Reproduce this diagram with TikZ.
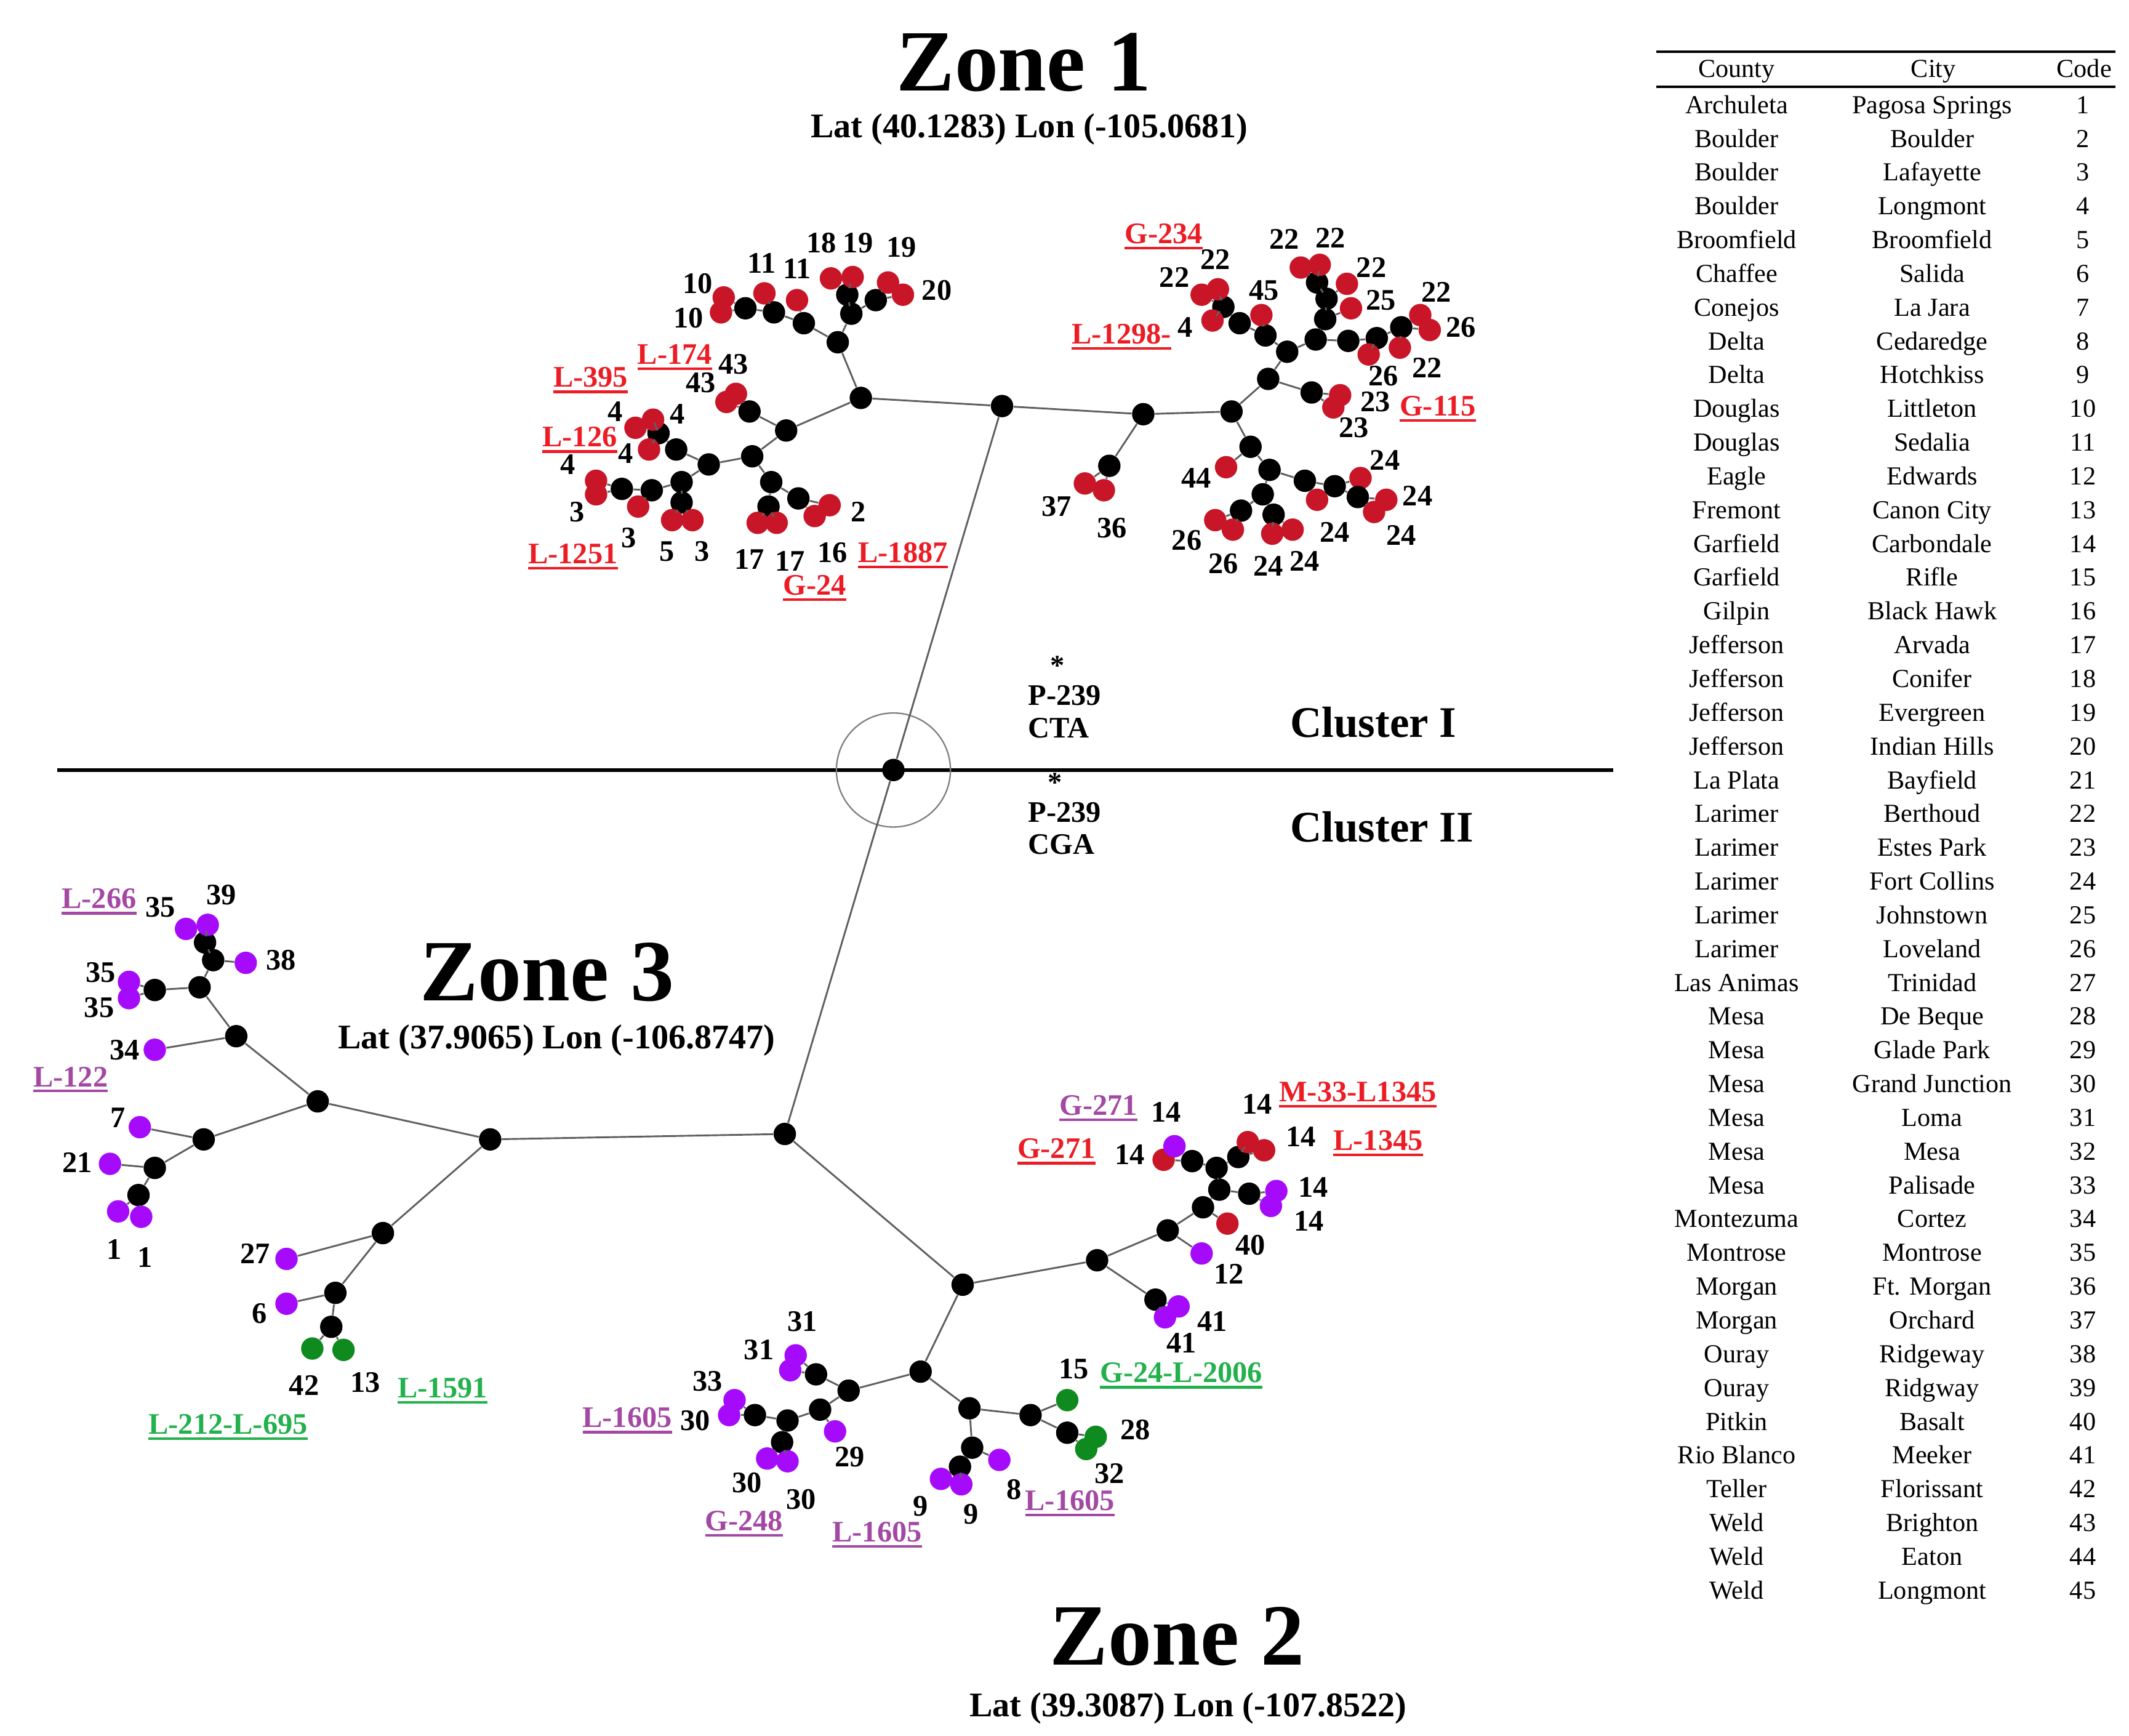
\documentclass[tikz,border=0pt]{standalone}
\usepackage{fontspec}
\setmainfont{Liberation Serif}
\definecolor{dred}{RGB}{200,22,40}
\definecolor{vio}{RGB}{166,10,250}
\definecolor{dgreen}{RGB}{14,138,30}
\definecolor{ured}{RGB}{236,28,36}
\definecolor{upur}{RGB}{163,73,164}
\definecolor{ugrn}{RGB}{34,177,76}
\definecolor{edgegray}{RGB}{95,95,95}
\newcommand{\labfont}{\fontsize{12.5}{14}\selectfont\bfseries}
\newcommand{\starfont}{\fontsize{12}{13}\selectfont\bfseries}
\newcommand{\tabfont}{\fontsize{10.9}{12}\selectfont}
\newcommand{\zonefont}{\fontsize{36.6}{40}\selectfont\bfseries}
\newcommand{\latfont}{\fontsize{14.5}{16}\selectfont\bfseries}
\newcommand{\clfont}{\fontsize{18.3}{20}\selectfont\bfseries}
\newcommand{\ulx}[1]{\setbox0=\hbox{#1}\vtop{\copy0\kern1.3pt\hrule height 1.1pt}}
\newcommand{\dt}[3]{\node[#1] (#2) at (#3) {};}
\begin{document}
\begin{tikzpicture}[x=0.02cm,y=-0.02cm,
  bd/.style={circle,fill=black,inner sep=0pt,minimum size=0.33cm},
  rd/.style={bd,fill=dred}, pd/.style={bd,fill=vio}, gd/.style={bd,fill=dgreen},
  lnk/.style={draw=edgegray,line width=0.75pt},
  lab/.style={inner sep=0pt,font=\labfont},
  ulr/.style={lab,text=ured}, ulp/.style={lab,text=upur}, ulg/.style={lab,text=ugrn},
  tabtxt/.style={inner sep=0pt,anchor=base,font=\tabfont}]
\useasboundingbox (0,0) rectangle (1568,1278);

% ---------- titles ----------
\node[font=\zonefont,inner sep=0pt] (z1) at (754,46) {Zone 1};
\node[font=\latfont,inner sep=0pt] (z1l) at (758,95) {Lat (40.1283) Lon (-105.0681)};
\node[font=\zonefont,inner sep=0pt] (z3) at (403,716) {Zone 3};
\node[font=\latfont,inner sep=0pt] (z3l) at (410,766) {Lat (37.9065) Lon (-106.8747)};
\node[font=\zonefont,inner sep=0pt] (z2) at (867,1205) {Zone 2};
\node[font=\latfont,inner sep=0pt] (z2l) at (875,1258) {Lat (39.3087) Lon (-107.8522)};

% ---------- cluster divider ----------
\coordinate (hl) at (42,567);
\coordinate (hr) at (1188,567);
\draw[line width=1.4pt] (hl) -- (hr);
\node[circle,draw=gray,line width=0.6pt,minimum size=1.68cm,inner sep=0pt] (ring) at (658,567) {};
\node[font=\starfont,inner sep=0pt,anchor=base] (st1) at (779,497) {\smash{*}};
\node[font=\labfont,inner sep=0pt,anchor=west] (p1) at (757,512) {P-239};
\node[font=\labfont,inner sep=0pt,anchor=west] (cta) at (757,536) {CTA};
\node[font=\starfont,inner sep=0pt,anchor=base] (st2) at (777,583) {\smash{*}};
\node[font=\labfont,inner sep=0pt,anchor=west] (p2) at (757,598) {P-239};
\node[font=\labfont,inner sep=0pt,anchor=west] (cga) at (757,622) {CGA};
\node[font=\clfont,inner sep=0pt,anchor=west] (cl1) at (950,532) {Cluster I};
\node[font=\clfont,inner sep=0pt,anchor=west] (cl2) at (950,609) {Cluster II};

% ---------- backbone ----------
\dt{bd}{C}{658,567}
\dt{bd}{T}{738,299}
\dt{bd}{B}{578,835}

% ---------- Zone 1 left ----------
\dt{bd}{L0}{634,293} \dt{bd}{L1}{617,252} \dt{bd}{L2}{592,238} \dt{bd}{L3}{570,230}
\dt{bd}{L4}{549,227} \dt{bd}{L5}{627,231} \dt{bd}{L6}{624,217} \dt{bd}{L7}{645,221}
\dt{rd}{Lr10a}{533,219} \dt{rd}{Lr10b}{531,230} \dt{rd}{Lr11a}{563,216} \dt{rd}{Lr11b}{587,221}
\dt{rd}{Lr18}{612,205} \dt{rd}{Lr19}{628,204} \dt{rd}{Lr19b}{654,208} \dt{rd}{Lr20}{665,217}
\dt{bd}{M1}{579,317} \dt{bd}{M2}{552,303}
\dt{rd}{Mr43a}{542,290} \dt{rd}{Mr43b}{535,296}
\dt{bd}{M3}{554,336} \dt{bd}{M4}{522,342} \dt{bd}{M5}{498,331} \dt{bd}{M6}{485,319}
\dt{rd}{Mr4a}{481,309} \dt{rd}{Mr4b}{468,315} \dt{rd}{Mr4c}{478,331}
\dt{bd}{M7}{502,355} \dt{bd}{M8}{502,370}
\dt{rd}{Mr5}{495,383} \dt{rd}{Mr3a}{510,383}
\dt{bd}{M9}{480,361} \dt{bd}{M10}{458,360}
\dt{rd}{Mr3b}{470,373} \dt{rd}{Mr3c}{439,354} \dt{rd}{Mr3d}{439,364}
\dt{bd}{M11}{568,355} \dt{bd}{M12}{588,367}
\dt{rd}{Mr2a}{611,372} \dt{rd}{Mr2b}{600,380}
\dt{bd}{M13}{566,373}
\dt{rd}{Mr17a}{558,385} \dt{rd}{Mr17b}{572,385}

% ---------- Zone 1 right ----------
\dt{bd}{R0}{842,305} \dt{bd}{R1}{907,303} \dt{bd}{R2}{934,279} \dt{bd}{R3}{948,259}
\dt{bd}{R4}{932,247} \dt{bd}{R5}{913,238} \dt{bd}{R6}{901,226}
\dt{rd}{Rr22a}{885,217} \dt{rd}{Rr22b}{897,213} \dt{rd}{Rr4}{893,236} \dt{rd}{Rr45}{929,232}
\dt{bd}{R7}{969,250} \dt{bd}{R8}{976,235} \dt{bd}{R9}{977,220} \dt{bd}{R10}{970,208}
\dt{rd}{Rr22c}{958,197} \dt{rd}{Rr22d}{972,195} \dt{rd}{Rr22e}{992,209} \dt{rd}{Rr25}{995,227}
\dt{bd}{R11}{993,251} \dt{bd}{R12}{1014,249} \dt{bd}{R13}{1032,241}
\dt{rd}{Rr22f}{1046,232} \dt{rd}{Rr26a}{1053,243} \dt{rd}{Rr22g}{1031,256} \dt{rd}{Rr26b}{1008,261}
\dt{bd}{R14}{966,289}
\dt{rd}{Rr23a}{987,291} \dt{rd}{Rr23b}{982,300}
\dt{bd}{R15}{921,329} \dt{rd}{Rr44}{903,344}
\dt{bd}{R16}{935,346} \dt{bd}{R17}{930,364} \dt{bd}{R18}{914,376}
\dt{rd}{Rr26c}{895,383} \dt{rd}{Rr26d}{908,390}
\dt{bd}{R19}{938,379}
\dt{rd}{Rr24a}{937,393} \dt{rd}{Rr24b}{952,390}
\dt{bd}{R20}{961,354} \dt{rd}{Rr24c}{970,368}
\dt{bd}{R21}{983,358} \dt{rd}{Rr24d}{1002,352}
\dt{bd}{R22}{1000,366}
\dt{rd}{Rr24e}{1021,368} \dt{rd}{Rr24f}{1012,377}
\dt{bd}{R23}{817,343}
\dt{rd}{Rr37}{799,356} \dt{rd}{Rr36}{813,361}

% ---------- Zone 3 ----------
\dt{bd}{W0}{361,839} \dt{bd}{W1}{234,811} \dt{bd}{W2}{174,763} \dt{bd}{W3}{147,727}
\dt{bd}{W4}{114,729}
\dt{pd}{Wp35a}{95,723} \dt{pd}{Wp35b}{95,735}
\dt{bd}{W5}{157,707} \dt{bd}{W6}{151,694}
\dt{pd}{Wp35c}{137,684} \dt{pd}{Wp39}{153,681} \dt{pd}{Wp38}{181,709} \dt{pd}{Wp34}{114,773}
\dt{bd}{W7}{150,839} \dt{pd}{Wp7}{103,830}
\dt{bd}{W8}{114,860} \dt{pd}{Wp21}{81,857}
\dt{bd}{W9}{102,880} \dt{pd}{Wp1a}{87,892} \dt{pd}{Wp1b}{104,896}
\dt{bd}{W10}{282,908} \dt{pd}{Wp27}{211,927}
\dt{bd}{W11}{247,952} \dt{pd}{Wp6}{211,960}
\dt{bd}{W12}{244,977} \dt{gd}{Wg42}{230,993} \dt{gd}{Wg13}{253,994}

% ---------- Zone 2 ----------
\dt{bd}{S0}{709,946} \dt{bd}{S1}{678,1010} \dt{bd}{S2}{625,1024} \dt{bd}{S3}{601,1012}
\dt{pd}{Sp31a}{586,998} \dt{pd}{Sp31b}{582,1009}
\dt{bd}{S4}{604,1038} \dt{bd}{S5}{580,1046} \dt{bd}{S6}{556,1042}
\dt{pd}{Sp33}{541,1031} \dt{pd}{Sp30a}{537,1042} \dt{pd}{Sp29}{615,1054}
\dt{bd}{S7}{576,1062} \dt{pd}{Sp30b}{565,1074} \dt{pd}{Sp30c}{580,1076}
\dt{bd}{S8}{714,1037} \dt{bd}{S9}{759,1042} \dt{gd}{Sg15}{786,1031}
\dt{bd}{S10}{786,1055} \dt{gd}{Sg28}{807,1058} \dt{gd}{Sg32}{800,1067}
\dt{bd}{S11}{716,1066} \dt{bd}{S12}{707,1080}
\dt{pd}{Sp9a}{693,1089} \dt{pd}{Sp9b}{708,1093} \dt{pd}{Sp8}{736,1075}
\dt{bd}{S13}{808,928} \dt{bd}{S14}{860,906} \dt{bd}{S15}{886,889} \dt{bd}{S16}{898,876}
\dt{bd}{S17}{896,860} \dt{bd}{S18}{878,855}
\dt{rd}{Sr14a}{857,854} \dt{pd}{Sp14a}{865,844}
\dt{bd}{S19}{912,852} \dt{rd}{Sr14b}{919,841} \dt{rd}{Sr14c}{931,847}
\dt{bd}{S20}{920,879} \dt{pd}{Sp14b}{940,877} \dt{pd}{Sp14c}{936,888}
\dt{rd}{Sr40}{904,901} \dt{pd}{Sp12}{885,923}
\dt{bd}{S21}{851,957} \dt{pd}{Sp41a}{868,962} \dt{pd}{Sp41b}{858,970}

% ---------- connectors ----------
\foreach \a/\b in {C/T, C/B, T/L0, T/R0, B/W0, B/S0,
  L0/L1, L1/L2, L2/L3, L3/L4, L4/Lr10a, L4/Lr10b, L3/Lr11a, L2/Lr11b, L1/L5, L5/L6,
  L6/Lr18, L6/Lr19, L5/L7, L7/Lr19b, L7/Lr20,
  L0/M1, M1/M2, M2/Mr43a, M2/Mr43b, M1/M3, M3/M4, M4/M5, M5/M6, M6/Mr4a, M6/Mr4b, M6/Mr4c,
  M4/M7, M7/M8, M8/Mr5, M8/Mr3a, M7/M9, M9/M10, M10/Mr3c, M10/Mr3d, M9/Mr3b,
  M3/M11, M11/M12, M12/Mr2a, M12/Mr2b, M11/M13, M13/Mr17a, M13/Mr17b,
  R0/R1, R0/R23, R23/Rr37, R23/Rr36, R1/R2, R2/R3, R3/R4, R4/R5, R5/R6, R6/Rr22a, R6/Rr22b,
  R6/Rr4, R4/Rr45, R3/R7, R7/R8, R8/R9, R9/R10, R10/Rr22c, R10/Rr22d, R9/Rr22e, R8/Rr25,
  R7/R11, R11/R12, R12/R13, R13/Rr22f, R13/Rr26a, R13/Rr22g, R12/Rr26b, R2/R14, R14/Rr23a,
  R14/Rr23b, R1/R15, R15/Rr44, R15/R16, R16/R17, R17/R18, R18/Rr26c, R18/Rr26d, R17/R19,
  R19/Rr24a, R19/Rr24b, R16/R20, R20/Rr24c, R20/R21, R21/Rr24d, R21/R22, R22/Rr24e, R22/Rr24f,
  W0/W1, W0/W10, W1/W2, W2/W3, W3/W4, W4/Wp35a, W4/Wp35b, W3/W5, W5/W6, W6/Wp35c, W6/Wp39,
  W5/Wp38, W2/Wp34, W1/W7, W7/Wp7, W7/W8, W8/Wp21, W8/W9, W9/Wp1a, W9/Wp1b, W10/Wp27,
  W10/W11, W11/Wp6, W11/W12, W12/Wg42, W12/Wg13,
  S0/S1, S0/S13, S1/S2, S2/S3, S3/Sp31a, S3/Sp31b, S2/S4, S4/S5, S5/S6, S6/Sp33, S6/Sp30a,
  S4/Sp29, S5/S7, S7/Sp30b, S7/Sp30c, S1/S8, S8/S9, S9/Sg15, S9/S10, S10/Sg28, S10/Sg32,
  S8/S11, S11/S12, S12/Sp9a, S12/Sp9b, S11/Sp8, S13/S14, S14/S15, S15/S16, S16/S17, S17/S18,
  S18/Sr14a, S18/Sp14a, S17/S19, S19/Sr14b, S19/Sr14c, S16/S20, S20/Sp14b, S20/Sp14c,
  S15/Sr40, S14/Sp12, S13/S21, S21/Sp41a, S21/Sp41b}
  \draw[lnk] (\a) -- (\b);

% ---------- number labels ----------
\foreach \x/\y/\t [count=\i] in {605/179/18, 632/179/19, 664/182/19, 690/214/20, 561/194/11,
  587/198/11, 514/209/10, 507/234/10, 540/268/43, 516/282/43, 453/303/4, 499/305/4, 461/334/4,
  418/342/4, 425/377/3, 463/396/3, 491/406/5, 517/406/3, 552/412/17, 582/413/17, 613/407/16,
  632/377/2}
  \node[lab] (na\i) at (\x,\y) {\t};
\foreach \x/\y/\t [count=\i] in {895/191/22, 865/204/22, 946/176/22, 980/175/22, 1010/197/22,
  1017/221/25, 1058/215/22, 1076/241/26, 1051/271/22, 1019/277/26, 931/214/45, 873/241/4,
  1013/296/23, 997/315/23, 1020/339/24, 881/352/44, 1044/365/24, 983/392/24, 1032/394/24,
  874/398/26, 901/415/26, 934/417/24, 961/413/24, 819/389/36, 778/373/37}
  \node[lab] (nb\i) at (\x,\y) {\t};
\foreach \x/\y/\t [count=\i] in {118/668/35, 163/659/39, 207/707/38, 74/716/35, 73/742/35,
  92/773/34, 87/823/7, 57/856/21, 84/920/1, 107/926/1, 188/923/27, 191/967/6, 224/1020/42,
  269/1018/13}
  \node[lab] (nc\i) at (\x,\y) {\t};
\foreach \x/\y/\t [count=\i] in {591/973/31, 559/994/31, 521/1017/33, 512/1046/30, 626/1073/29,
  550/1092/30, 590/1104/30, 678/1109/9, 715/1115/9, 747/1097/8, 791/1008/15, 836/1053/28,
  817/1085/32, 859/819/14, 926/813/14, 832/850/14, 958/837/14, 967/874/14, 964/899/14,
  921/917/40, 905/938/12, 893/973/41, 870/989/41}
  \node[lab] (nd\i) at (\x,\y) {\t};

% ---------- underlined labels ----------
\node[ulr] (u1) at (497,263) {\ulx{L-174}};
\node[ulr] (u2) at (435,280) {\ulx{L-395}};
\node[ulr] (u3) at (427,324) {\ulx{L-126}};
\node[ulr] (u4) at (422,410) {\ulx{L-1251}};
\node[ulr] (u5) at (665,409) {\ulx{L-1887}};
\node[ulr] (u6) at (600,433) {\ulx{G-24}};
\node[ulr] (u7) at (857,174) {\ulx{G-234}};
\node[ulr] (u8) at (826,248) {\ulx{L-1298-}};
\node[ulr] (u9) at (1059,301) {\ulx{G-115}};
\node[ulp] (u10) at (73,664) {\ulx{L-266}};
\node[ulp] (u11) at (52,795) {\ulx{L-122}};
\node[ulg] (u12) at (168,1051) {\ulx{L-212-L-695}};
\node[ulg] (u13) at (326,1024) {\ulx{L-1591}};
\node[ulp] (u14) at (462,1046) {\ulx{L-1605}};
\node[ulp] (u15) at (548,1122) {\ulx{G-248}};
\node[ulp] (u16) at (646,1130) {\ulx{L-1605}};
\node[ulp] (u17) at (788,1107) {\ulx{L-1605}};
\node[ulg] (u18) at (870,1013) {\ulx{G-24-L-2006}};
\node[ulp] (u19) at (809,816) {\ulx{G-271}};
\node[ulr] (u20) at (1000,806) {\ulx{M-33-L1345}};
\node[ulr] (u21) at (778,848) {\ulx{G-271}};
\node[ulr] (u22) at (1015,842) {\ulx{L-1345}};

% ---------- table ----------
\coordinate (ta) at (1220,38); \coordinate (tb) at (1558,38);
\coordinate (tc) at (1220,64); \coordinate (td) at (1558,64);
\draw[line width=0.9pt] (ta) -- (tb);
\draw[line width=0.9pt] (tc) -- (td);
\node[tabtxt] (hco) at (1279,57) {County};
\node[tabtxt] (hci) at (1424,57) {City};
\node[tabtxt] (hcd) at (1535,57) {Code};
\foreach \co/\ci [count=\i] in {Archuleta/Pagosa Springs, Boulder/Boulder, Boulder/Lafayette,
  Boulder/Longmont, Broomfield/Broomfield, Chaffee/Salida, Conejos/La Jara, Delta/Cedaredge,
  Delta/Hotchkiss, Douglas/Littleton, Douglas/Sedalia, Eagle/Edwards, Fremont/Canon City,
  Garfield/Carbondale, Garfield/Rifle, Gilpin/Black Hawk, Jefferson/Arvada, Jefferson/Conifer,
  Jefferson/Evergreen, Jefferson/Indian Hills, La Plata/Bayfield, Larimer/Berthoud,
  Larimer/Estes Park, Larimer/Fort Collins, Larimer/Johnstown, Larimer/Loveland,
  Las Animas/Trinidad, Mesa/De Beque, Mesa/Glade Park, Mesa/Grand Junction, Mesa/Loma,
  Mesa/Mesa, Mesa/Palisade, Montezuma/Cortez, Montrose/Montrose, Morgan/Ft. Morgan,
  Morgan/Orchard, Ouray/Ridgeway, Ouray/Ridgway, Pitkin/Basalt, Rio Blanco/Meeker,
  Teller/Florissant, Weld/Brighton, Weld/Eaton, Weld/Longmont}
{
  \node[tabtxt] (tco\i) at (1279,{83.5+24.86*(\i-1)}) {\co};
  \node[tabtxt] (tci\i) at (1423,{83.5+24.86*(\i-1)}) {\ci};
  \node[tabtxt] (tcd\i) at (1534,{83.5+24.86*(\i-1)}) {\i};
}
\end{tikzpicture}
\end{document}
